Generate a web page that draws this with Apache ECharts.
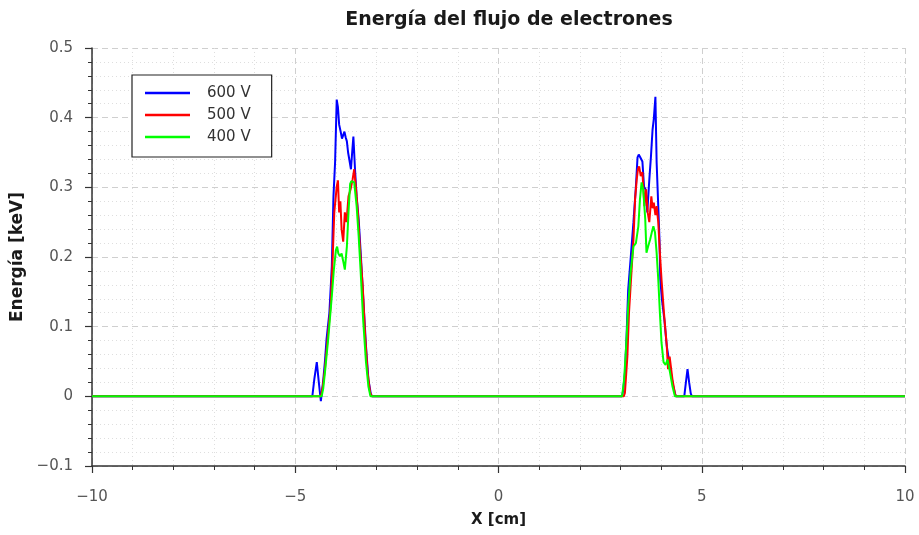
<!DOCTYPE html>
<html>
<head>
<meta charset="utf-8">
<script src="https://cdn.jsdelivr.net/npm/echarts@6/dist/echarts.min.js"></script>
<style>html,body{margin:0;padding:0;background:#fff}#c{width:919px;height:535px}</style>
</head>
<body>
<div id="c"></div>
<script>
const titleText = 'Energía del flujo de electrones';
const xName = 'X [cm]';
const yName = 'Energía [keV]';
const seriesNames = ['600 V', '500 V', '400 V'];
const seriesColors = ['#0000ff', '#ff0000', '#00ff00'];

const x600 = [-10,-4.58,-4.53,-4.47,-4.42,-4.37,-4.31,-4.27,-4.23,-4.16,-4.10,-4.06,-4.02,-3.98,-3.95,-3.92,-3.88,-3.85,-3.83,-3.79,-3.76,-3.73,-3.70,-3.67,-3.63,-3.60,-3.57,-3.53,-3.49,-3.44,-3.39,-3.33,-3.26,-3.20,-3.14,-3.10,3.04,3.07,3.11,3.15,3.19,3.25,3.32,3.38,3.42,3.45,3.48,3.54,3.58,3.62,3.66,3.71,3.75,3.79,3.82,3.86,3.89,3.93,3.96,3.98,4.02,4.08,4.14,4.19,4.24,4.30,4.36,4.57,4.61,4.65,4.69,4.73,4.76,10];
const y600 = [0,0,0.025,0.049,0.02,-0.007,0.024,0.05,0.082,0.12,0.187,0.287,0.336,0.426,0.415,0.39,0.379,0.37,0.369,0.38,0.372,0.366,0.35,0.34,0.326,0.35,0.373,0.326,0.287,0.254,0.206,0.144,0.072,0.024,0.003,0,0,0.01,0.034,0.086,0.153,0.197,0.25,0.301,0.343,0.347,0.344,0.337,0.301,0.297,0.264,0.311,0.344,0.383,0.398,0.43,0.336,0.273,0.225,0.168,0.139,0.11,0.072,0.053,0.034,0.014,0,0,0.02,0.039,0.02,0.004,0,0];

const x500 = [-10,-4.37,-4.32,-4.27,-4.19,-4.13,-4.08,-4.04,-3.98,-3.95,-3.92,-3.89,-3.86,-3.82,-3.78,-3.74,-3.69,-3.64,-3.59,-3.55,-3.51,-3.46,-3.41,-3.34,-3.28,-3.22,-3.16,-3.12,3.08,3.11,3.17,3.21,3.28,3.32,3.36,3.40,3.43,3.46,3.50,3.54,3.59,3.63,3.67,3.71,3.76,3.79,3.82,3.86,3.89,3.93,3.97,4.01,4.07,4.14,4.17,4.21,4.28,4.34,4.37,10];
const y500 = [0,0,0.015,0.039,0.092,0.129,0.197,0.264,0.301,0.31,0.264,0.28,0.24,0.222,0.264,0.25,0.287,0.297,0.311,0.326,0.301,0.264,0.215,0.158,0.086,0.034,0.006,0,0,0.005,0.057,0.12,0.187,0.225,0.283,0.311,0.326,0.33,0.316,0.322,0.273,0.297,0.264,0.25,0.287,0.27,0.278,0.26,0.273,0.25,0.206,0.168,0.12,0.072,0.039,0.057,0.024,0.004,0,0];

const x400 = [-10,-4.35,-4.31,-4.27,-4.19,-4.10,-4.05,-4.00,-3.97,-3.94,-3.90,-3.86,-3.82,-3.78,-3.73,-3.69,-3.65,-3.62,-3.59,-3.55,-3.49,-3.44,-3.39,-3.33,-3.26,-3.20,-3.15,3.04,3.09,3.14,3.19,3.25,3.32,3.38,3.44,3.48,3.52,3.56,3.61,3.64,3.68,3.73,3.77,3.81,3.85,3.89,3.93,3.97,4.01,4.06,4.11,4.16,4.22,4.28,4.34,10];
const y400 = [0,0,0.012,0.034,0.082,0.144,0.182,0.21,0.215,0.205,0.201,0.205,0.194,0.182,0.215,0.264,0.305,0.309,0.309,0.307,0.273,0.23,0.178,0.11,0.049,0.014,0,0,0.024,0.072,0.129,0.178,0.215,0.22,0.244,0.283,0.307,0.297,0.254,0.206,0.215,0.225,0.235,0.244,0.235,0.206,0.168,0.12,0.077,0.049,0.045,0.053,0.034,0.014,0,0];

const xs = [x600, x500, x400];
const ys = [y600, y500, y400];

const FONT = 'DejaVu Sans';
const minusFmt = v => String(v).replace('-', '\u2212');

const chart = echarts.init(document.getElementById('c'), null, {renderer: 'canvas'});
chart.setOption({
  animation: false,
  backgroundColor: '#ffffff',
  title: {
    text: titleText, left: 504, top: 6, textAlign: 'center',
    textStyle: {fontFamily: FONT, fontSize: 19, fontWeight: 'bold', color: '#1a1a1a'}
  },
  legend: {
    data: seriesNames, orient: 'vertical', left: 132, top: 75,
    icon: 'rect', itemWidth: 45, itemHeight: 2.5, itemGap: 0,
    padding: [7, 21, 9, 13],
    borderColor: '#222', borderWidth: 1.2, backgroundColor: '#fff',
    textStyle: {fontFamily: FONT, fontSize: 15, color: '#333', lineHeight: 22, padding: [0, 0, 0, 12]}
  },
  grid: {left: 92, right: 14, top: 48, bottom: 69, containLabel: false},
  xAxis: {
    type: 'value', min: -10, max: 10, interval: 5,
    name: xName, nameLocation: 'middle', nameGap: 47,
    nameTextStyle: {fontFamily: FONT, fontSize: 15, fontWeight: 'bold', color: '#1a1a1a'},
    axisLine: {show: true, onZero: false, lineStyle: {color: '#333', width: 1.5}},
    axisTick: {show: true, inside: false, length: 7, lineStyle: {color: '#333', width: 1.2}},
    minorTick: {show: true, splitNumber: 5, length: 4, lineStyle: {color: '#333', width: 1}},
    axisLabel: {fontFamily: FONT, fontSize: 15, color: '#555', margin: 24, formatter: minusFmt},
    splitLine: {show: true, lineStyle: {color: '#cfcfcf', type: [6, 4], width: 1}},
    minorSplitLine: {show: true, lineStyle: {color: '#dedede', type: [1, 3], width: 1}}
  },
  yAxis: {
    type: 'value', min: -0.1, max: 0.5, interval: 0.1,
    name: yName, nameLocation: 'middle', nameGap: 60,
    nameTextStyle: {fontFamily: FONT, fontSize: 17, fontWeight: 'bold', color: '#1a1a1a'},
    axisLine: {show: true, onZero: false, lineStyle: {color: '#333', width: 1.5}},
    axisTick: {show: true, inside: false, length: 7, lineStyle: {color: '#333', width: 1.2}},
    minorTick: {show: true, splitNumber: 5, length: 4, lineStyle: {color: '#333', width: 1}},
    axisLabel: {fontFamily: FONT, fontSize: 15, color: '#555', margin: 19,
      formatter: v => minusFmt(Math.round(v * 10) / 10)},
    splitLine: {show: true, lineStyle: {color: '#cfcfcf', type: [6, 4], width: 1}},
    minorSplitLine: {show: true, lineStyle: {color: '#dedede', type: [1, 3], width: 1}}
  },
  series: seriesNames.map((n, i) => ({
    name: n, type: 'line', symbol: 'none', showSymbol: false,
    color: seriesColors[i],
    lineStyle: {color: seriesColors[i], width: 2},
    data: xs[i].map((x, j) => [x, ys[i][j]]),
    z: 2 + i
  }))
});
</script>
</body>
</html>
